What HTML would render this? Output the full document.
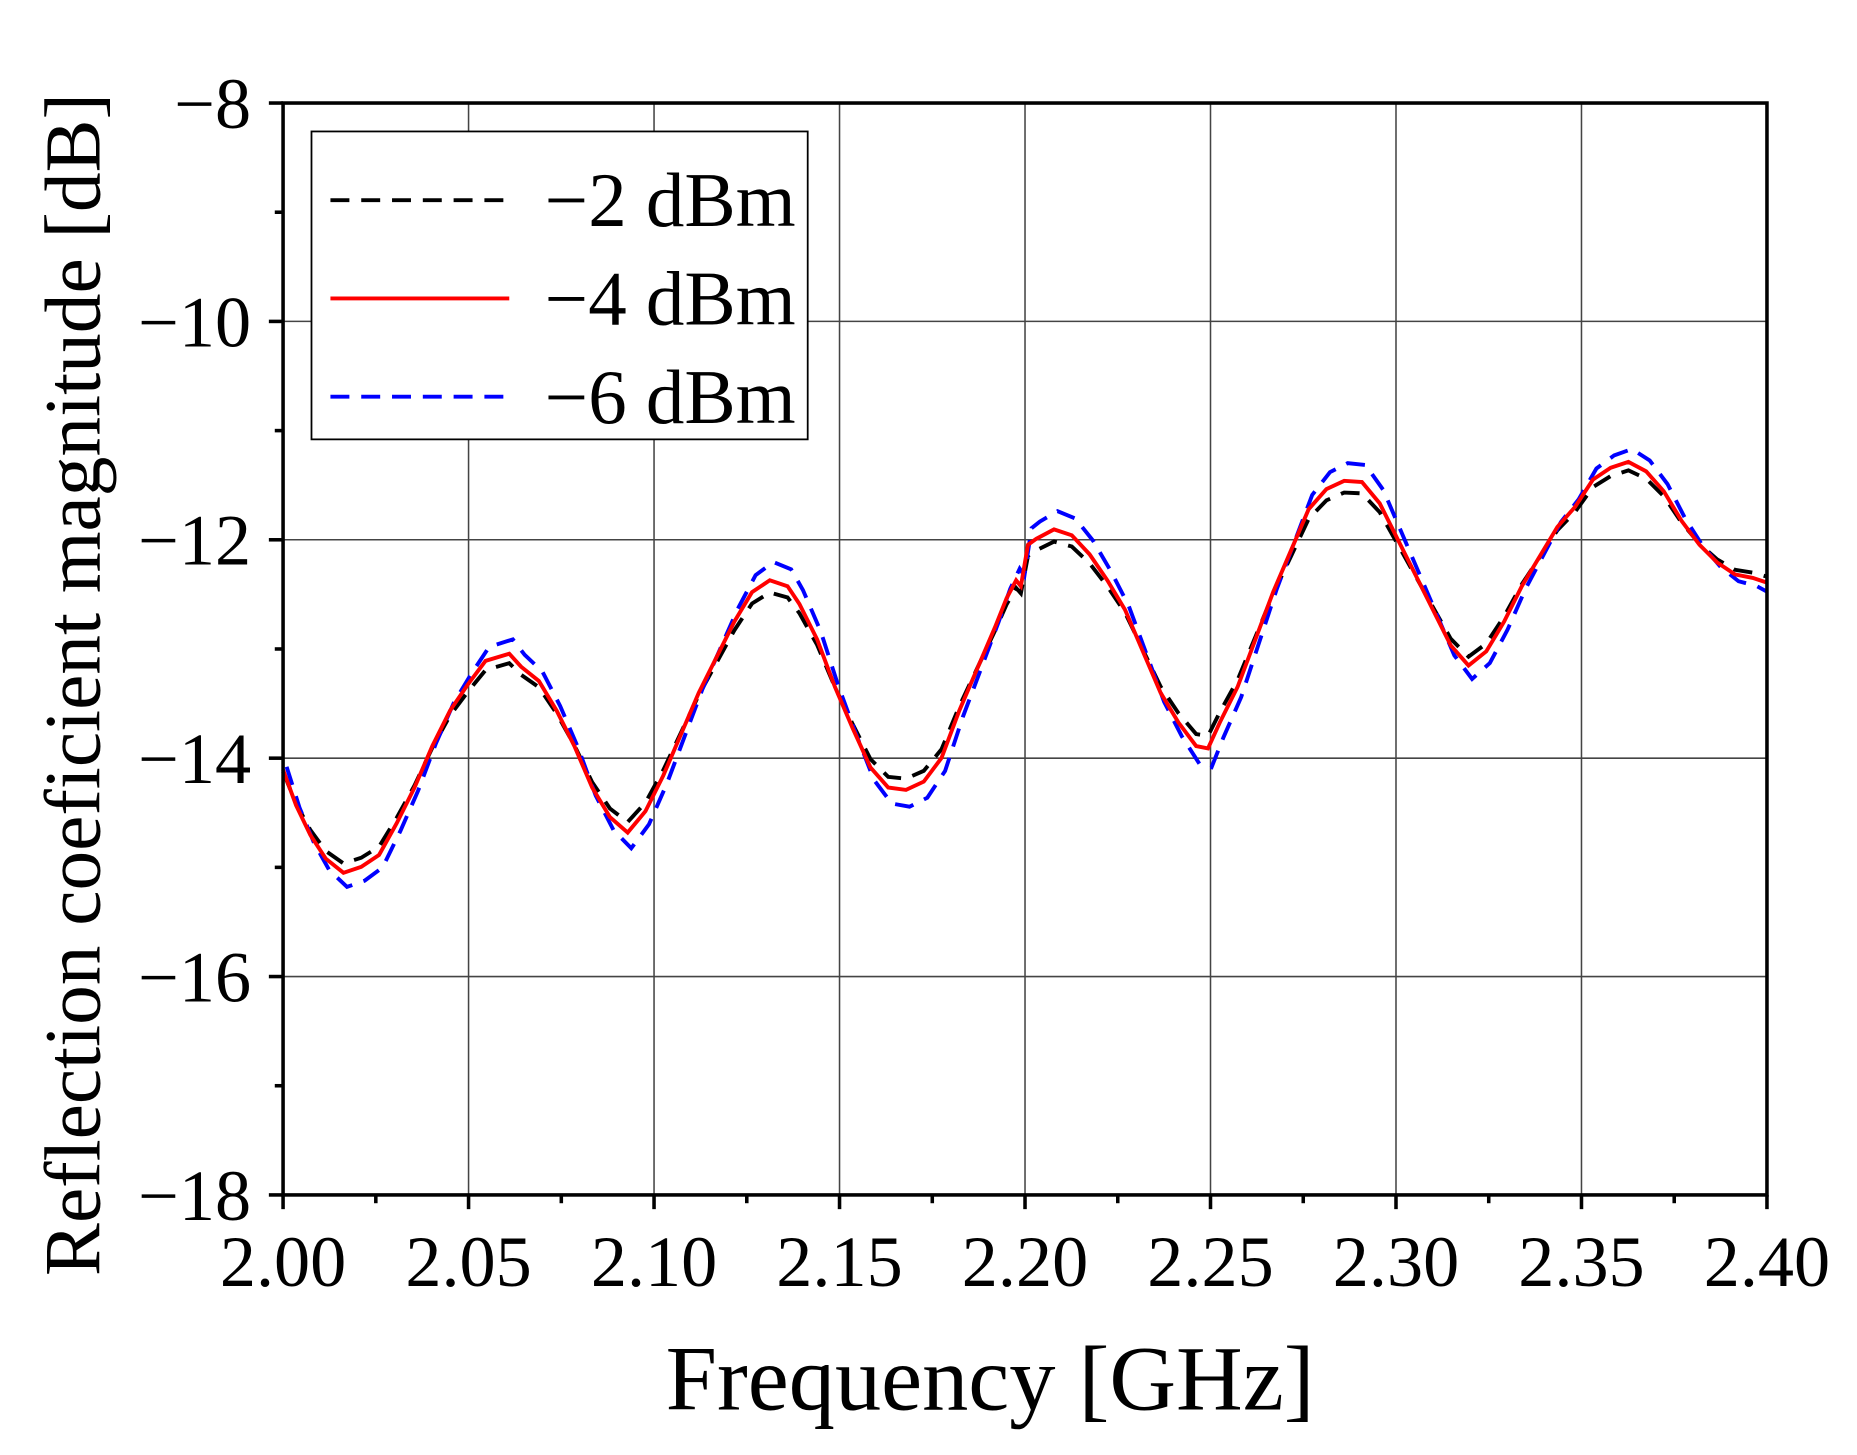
<!DOCTYPE html>
<html><head><meta charset="utf-8"><style>html,body{margin:0;padding:0;background:#fff}svg{display:block}</style></head>
<body>
<svg id="s" width="1857" height="1455" viewBox="0 0 1568 1228.6" xmlns="http://www.w3.org/2000/svg" font-family="'Liberation Serif', serif">
<g id="grid" stroke="#444" stroke-width="1.3"></g>
<g id="series" fill="none" stroke-width="3.3"></g>
<rect x="239" y="87" width="1253" height="922" fill="none" stroke="#000" stroke-width="3"/>
<g id="ticks" stroke="#000" stroke-width="3"></g>
<g id="labels" font-size="61" fill="#000"></g>
<rect x="263" y="111" width="419" height="260" fill="#fff" stroke="#000" stroke-width="1.5"/>
<line x1="279" y1="169" x2="430" y2="169" stroke="#000" stroke-width="3.3" stroke-dasharray="16,10"/>
<line x1="279" y1="252" x2="430" y2="252" stroke="#f00" stroke-width="3.3"/>
<line x1="279" y1="335" x2="430" y2="335" stroke="#00f" stroke-width="3.3" stroke-dasharray="16,10"/>
<g font-size="65" fill="#000">
<text x="460" y="191">−2 dBm</text>
<text x="460" y="274">−4 dBm</text>
<text x="460" y="357">−6 dBm</text>
</g>
<text x="836" y="1190" font-size="78" text-anchor="middle">Frequency [GHz]</text>
<text transform="translate(84,578) rotate(-90)" font-size="67" text-anchor="middle">Reflection coeficient magnitude [dB]</text>
</svg>
<script>
const L=239,R=1492,T=87,B=1009,NS="http://www.w3.org/2000/svg";
function el(p,t,a,txt){const e=document.createElementNS(NS,t);for(const k in a)e.setAttribute(k,a[k]);if(txt)e.textContent=txt;document.getElementById(p).appendChild(e);return e;}
const xs=f=>L+(f-2)/0.4*(R-L), ys=v=>T+(-8-v)/10*(B-T);
for(let i=0;i<=8;i++){const x=xs(2+i*0.05);if(i>0&&i<8)el('grid','line',{x1:x,y1:T,x2:x,y2:B});
 el('ticks','line',{x1:x,y1:B,x2:x,y2:B+12});
 el('labels','text',{x:x,y:1086,'text-anchor':'middle'},(2+i*0.05).toFixed(2));
 if(i<8){const xm=xs(2.025+i*0.05);el('ticks','line',{x1:xm,y1:B,x2:xm,y2:B+7});}}
for(let i=0;i<=5;i++){const v=-8-2*i,y=ys(v);if(i>0&&i<5)el('grid','line',{x1:L,y1:y,x2:R,y2:y});
 el('ticks','line',{x1:L-12,y1:y,x2:L,y2:y});
 el('labels','text',{x:212,y:y+21,'text-anchor':'end'},'−'+(-v));
 if(i<5){const ym=ys(v-1);el('ticks','line',{x1:L-7,y1:ym,x2:L,y2:ym});}}
const red=[[239,650],[250,680],[262,705],[275,725],[290,737],[305,732],[320,722],[335,695],[350,665],[365,630],[380,600],[395,578],[410,558],[430,552],[440,563],[455,575],[470,600],[485,630],[500,665],[515,690],[530,703],[545,685],[560,655],[575,620],[590,585],[605,555],[620,525],[635,500],[650,490],[665,495],[675,510],[690,540],[705,580],[720,615],[735,648],[750,665],[765,667],[780,660],[795,640],[810,600],[825,565],[840,530],[850,505],[858,490],[862,495],[868,460],[875,455],[890,447],[905,452],[920,468],[935,490],[950,515],[965,550],[980,585],[995,610],[1010,630],[1020,632],[1030,610],[1045,580],[1060,540],[1075,500],[1090,465],[1105,430],[1120,413],[1135,406],[1150,407],[1165,425],[1180,455],[1195,485],[1210,515],[1225,545],[1240,562],[1255,550],[1270,525],[1285,495],[1300,470],[1315,445],[1330,428],[1345,405],[1360,395],[1375,390],[1390,398],[1405,415],[1420,440],[1435,460],[1450,475],[1465,485],[1480,488],[1492,492]];
const base=x=>645-0.18*(x-360);
function mk(k,dx){return red.map(p=>[Math.min(R,p[0]+dx),base(p[0])+(p[1]-base(p[0]))*k]);}
const pts=a=>a.map(p=>p[0].toFixed(1)+','+p[1].toFixed(1)).join(' ');
el('series','polyline',{points:pts(mk(0.9,0)),stroke:'#000','stroke-dasharray':'16,10'});
el('series','polyline',{points:pts(mk(1.15,3)),stroke:'#00f','stroke-dasharray':'16,10'});
el('series','polyline',{points:pts(red),stroke:'#f00'});
</script>
</body></html>
